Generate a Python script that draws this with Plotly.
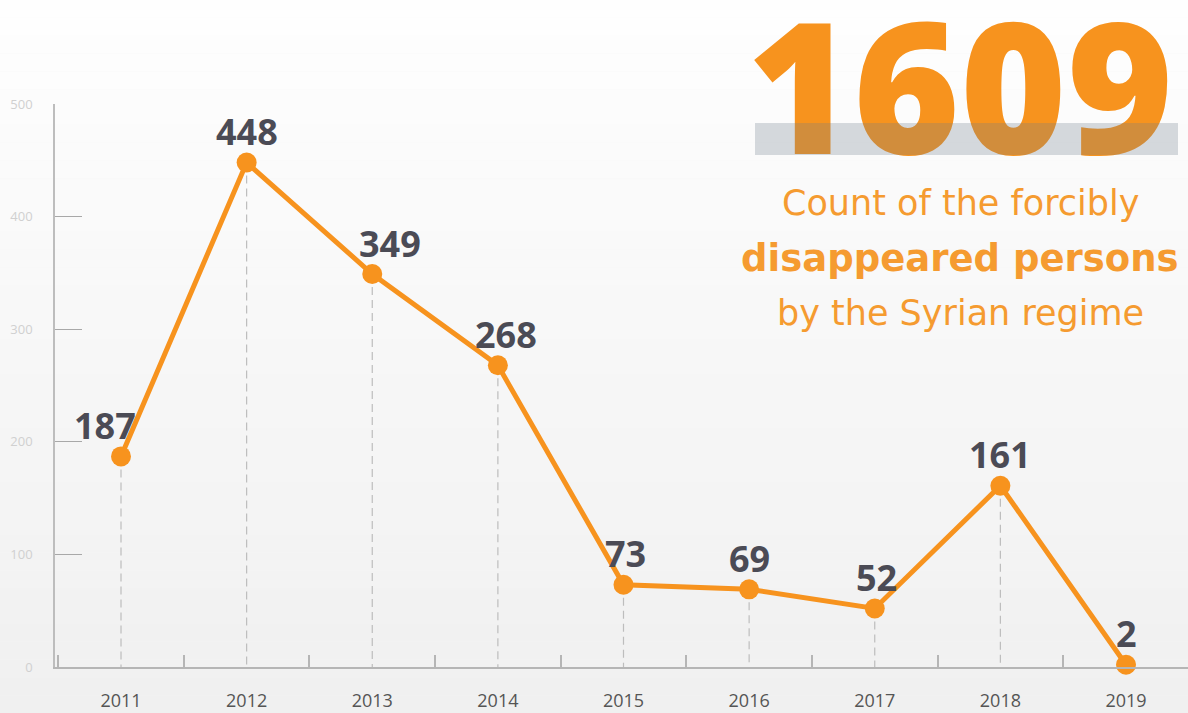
import plotly.graph_objects as go

years = ["2011", "2012", "2013", "2014", "2015", "2016", "2017", "2018", "2019"]
counts = [187, 448, 349, 268, 73, 69, 52, 161, 2]
y_ticks = [0, 100, 200, 300, 400, 500]
subtitle = ["Count of the forcibly", "disappeared persons", "by the Syrian regime"]

total = sum(counts)

ORANGE = "#F7931E"
LABEL = "#4B4B55"
FONT = "Open Sans"

W, H = 1188, 713
fig = go.Figure()

# dashed drop lines
dx, dy = [], []
for yr, v in zip(years, counts):
    dx += [yr, yr, None]
    dy += [v, 0, None]
fig.add_trace(go.Scatter(x=dx, y=dy, mode="lines",
                         line=dict(color="#BDBDBD", width=1.2, dash="8px,5px"),
                         hoverinfo="skip", showlegend=False, cliponaxis=False))

fig.add_trace(go.Scatter(x=years, y=counts, mode="lines+markers",
                         line=dict(color=ORANGE, width=5),
                         marker=dict(color=ORANGE, size=20),
                         showlegend=False, cliponaxis=False))

# big total on a separate full-page subplot (so the grey bar can sit over it)
fig.add_trace(go.Scatter(x=[960 / W], y=[1 - 108 / H], mode="text", text=[str(total)],
                         textfont=dict(family=FONT, size=182, color=ORANGE, weight=800),
                         textposition="middle center",
                         xaxis="x2", yaxis="y2", showlegend=False, hoverinfo="skip",
                         cliponaxis=False))

# value labels (category index used as x position)
xshifts = [-16, 0, 18, 8, 2, 0, 2, 0, 0]
for i, (v, xs) in enumerate(zip(counts, xshifts)):
    fig.add_annotation(x=i, y=v, text=f"<b>{v}</b>", showarrow=False,
                       xshift=xs, yshift=31, xref="x", yref="y",
                       font=dict(family=FONT, size=36, color=LABEL))

# subtitle lines
sub_y = [203, 258, 313]
sub_size = [35, 37, 35]
for i, (t, yp, sz) in enumerate(zip(subtitle, sub_y, sub_size)):
    txt = f"<b>{t}</b>" if i == 1 else t
    fig.add_annotation(x=960 / W, y=1 - yp / H, xref="paper", yref="paper",
                       text=txt, showarrow=False, xanchor="center", yanchor="middle",
                       font=dict(family="DejaVu Sans", size=sz, color="#F59B30"))

shapes = []
# background gradient bands
n = 40
top = (254, 254, 254)
bot = (240, 240, 240)
for i in range(n):
    f = i / (n - 1)
    c = tuple(int(round(top[k] + (bot[k] - top[k]) * f)) for k in range(3))
    shapes.append(dict(type="rect", xref="paper", yref="paper",
                       x0=0, x1=1, y0=1 - (i + 1) / n, y1=1 - i / n,
                       fillcolor="rgb(%d,%d,%d)" % c, line=dict(width=0), layer="below"))
# grey bar across the big number
shapes.append(dict(type="rect", xref="paper", yref="paper",
                   x0=755 / W, x1=1178 / W, y0=1 - 155 / H, y1=1 - 123 / H,
                   fillcolor="rgba(110,125,140,0.28)", line=dict(width=0), layer="above"))

x_left_px, x_first_px, x_step = 55, 121, 125.625
x0 = -(x_first_px - x_left_px) / x_step
x1 = 8 + (W - 1126) / x_step

fig.update_layout(
    width=W, height=H,
    margin=dict(l=0, r=0, t=0, b=0, autoexpand=False),
    paper_bgcolor="#F5F5F5", plot_bgcolor="rgba(0,0,0,0)",
    shapes=shapes,
    xaxis=dict(type="category", domain=[x_left_px / W, 1], range=[x0, x1],
               automargin=False,
               showgrid=False, zeroline=False, showline=True, linecolor="#B5B5B5", linewidth=1.5,
               ticks="inside", ticklen=12, tickcolor="#B5B5B5", tickwidth=1.5,
               tickson="boundaries", ticklabelstandoff=17,
               tickfont=dict(family=FONT, size=18, color="#555555")),
    yaxis=dict(domain=[(H - 667) / H, (H - 104) / H], range=[0, 500],
               automargin=False,
               tickvals=y_ticks, showgrid=False, zeroline=False,
               showline=True, linecolor="#BDBDBD", linewidth=1.5,
               ticks="inside", ticklen=27, tickcolor="#A8A8A8", tickwidth=1,
               ticklabelstandoff=18,
               tickfont=dict(family=FONT, size=13, color="#D0D0D0")),
    xaxis2=dict(range=[0, 1], visible=False, domain=[0, 1], anchor="y2", automargin=False),
    yaxis2=dict(range=[0, 1], visible=False, domain=[0, 1], anchor="x2", automargin=False),
)

fig.write_html("out.html", post_script="document.body.style.margin='0';",
               config={"displayModeBar": False})
